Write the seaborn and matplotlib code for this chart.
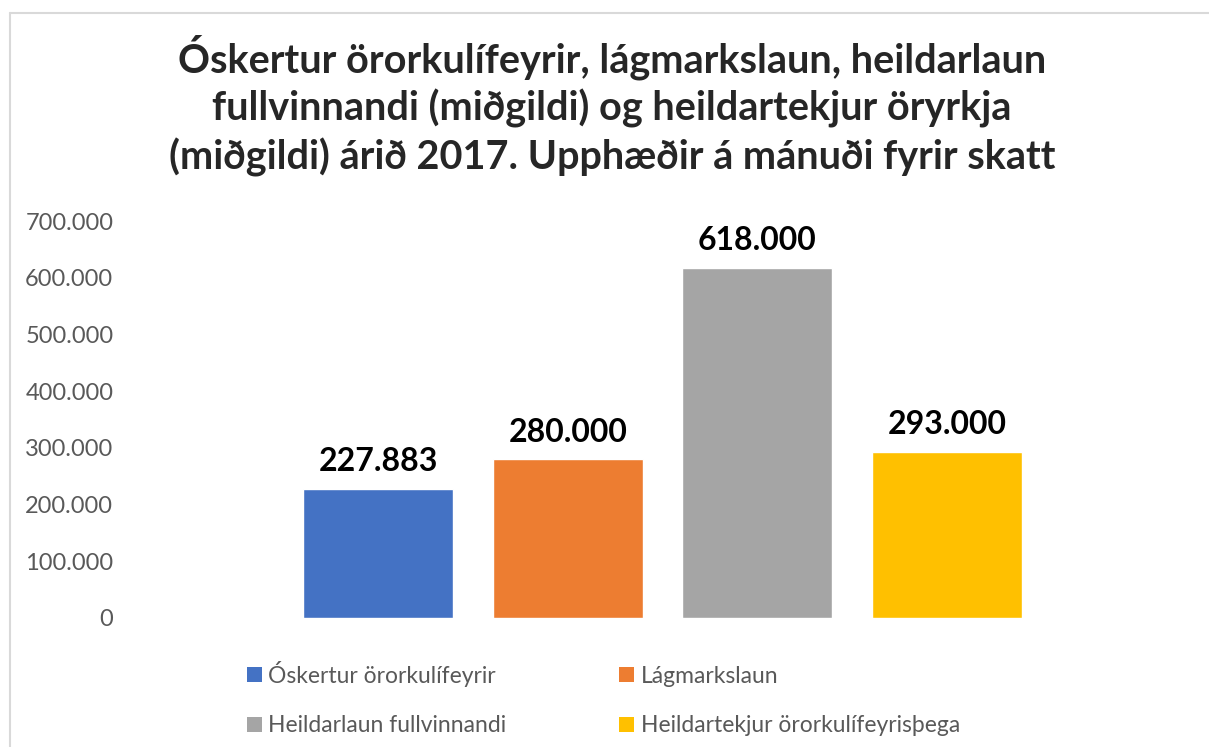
import numpy as np
import pandas as pd
import seaborn as sns
import matplotlib.pyplot as plt
from matplotlib.patches import Patch
from matplotlib.lines import Line2D
from matplotlib.ticker import FuncFormatter

# monthly amounts before tax, 2017
categories = ['Óskertur örorkulífeyrir', 'Lágmarkslaun',
              'Heildarlaun fullvinnandi', 'Heildartekjur örorkulífeyrisþega']
values = [227883, 280000, 618000, 293000]
bar_labels = ['227.883', '280.000', '618.000', '293.000']
colors = ['#4472C4', '#ED7D31', '#A5A5A5', '#FFC000']
yticks = [0, 100000, 200000, 300000, 400000, 500000, 600000, 700000]
title = ('Óskertur örorkulífeyrir, lágmarkslaun, heildarlaun\n'
         'fullvinnandi (miðgildi) og heildartekjur öryrkja\n'
         '(miðgildi) árið 2017. Upphæðir á mánuði fyrir skatt')

sns.set_style('white')
plt.rcParams['font.family'] = ['Lato', 'DejaVu Sans']

df = pd.DataFrame({'flokkur': categories, 'upphaed': values})

W, H = 1209, 747
fig = plt.figure(figsize=(W / 100, H / 100), dpi=100)
ax = fig.add_axes([130 / W, 129 / H, 1065 / W, 397 / H])

sns.barplot(data=df, x='flokkur', y='upphaed', hue='flokkur', order=categories,
            hue_order=categories, palette=colors, width=0.79, legend=False,
            saturation=1, ax=ax)

for cont, lab in zip(ax.containers, bar_labels):
    ax.bar_label(cont, labels=[lab], padding=9, fontsize=23, fontweight='bold',
                 color='black')

ax.set_xlim(-1.31, 4.31)
ax.set_ylim(0, 700000)
ax.set_yticks(yticks)
ax.yaxis.set_major_formatter(FuncFormatter(lambda v, p: f'{int(v):,}'.replace(',', '.')))
ax.tick_params(axis='y', length=0, pad=12, labelsize=17, labelcolor='#595959')
ax.set_xticks([])
ax.set_xlabel('')
ax.set_ylabel('')
sns.despine(ax=ax, left=True, bottom=True)

fig.suptitle(title, x=612 / W, y=1 - 34 / H, va='top', fontsize=28.5,
             fontweight='bold', linespacing=1.3)

# legend is filled row by row in the reference
handles = [Patch(facecolor=c, edgecolor='none') for c in colors]
order = [0, 2, 1, 3]
fig.legend([handles[i] for i in order], [categories[i] for i in order],
           loc='upper left', ncol=2,
           bbox_to_anchor=(226 / W, 1 - 640 / H), frameon=False,
           fontsize=16.5, labelcolor='#595959', handlelength=0.65,
           handleheight=0.65, handletextpad=0.3, columnspacing=4.9,
           labelspacing=1.25)

# thin border of the chart area
fig.add_artist(Line2D([10 / W, 1], [1 - 13 / H, 1 - 13 / H], color='#D9D9D9', lw=1.5,
                      transform=fig.transFigure))
fig.add_artist(Line2D([10 / W, 10 / W], [0, 1 - 13 / H], color='#D9D9D9', lw=1.5,
                      transform=fig.transFigure))

fig.savefig('out.png', dpi=100)
